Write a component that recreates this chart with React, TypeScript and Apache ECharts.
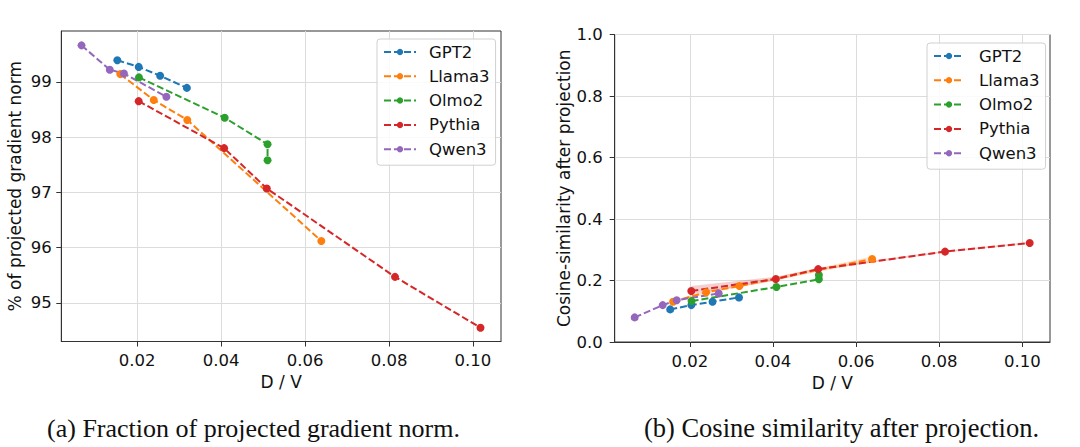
import React, { useEffect, useRef } from "react";
import * as echarts from "echarts";

// ---- data ----
const models = ["GPT2", "Llama3", "Olmo2", "Pythia", "Qwen3"];
const colors = ["#1f77b4", "#ff7f0e", "#2ca02c", "#d62728", "#9467bd"];

const gpt2X = [0.01528, 0.02037, 0.02547, 0.03184];
const llama3X = [0.01597, 0.02395, 0.03194, 0.06387];
const olmo2X = [0.02042, 0.04085, 0.05106, 0.05106];
const pythiaX = [0.02036, 0.04071, 0.05089, 0.08142, 0.10178];
const qwen3X = [0.00674, 0.01348, 0.01685, 0.02696];

// (a) % of projected gradient norm
const gpt2Norm = [99.39, 99.27, 99.11, 98.89];
const llama3Norm = [99.14, 98.67, 98.31, 96.12];
const olmo2Norm = [99.08, 98.35, 97.87, 97.58];
const pythiaNorm = [98.65, 97.8, 97.07, 95.47, 94.55];
const qwen3Norm = [99.66, 99.22, 99.15, 98.73];

// (b) cosine similarity after projection
const gpt2Cos = [0.106, 0.12, 0.131, 0.145];
const llama3Cos = [0.131, 0.162, 0.182, 0.27];
const olmo2Cos = [0.133, 0.179, 0.204, 0.218];
const pythiaCos = [0.166, 0.205, 0.237, 0.294, 0.322];
const qwen3Cos = [0.08, 0.12, 0.136, 0.158];

// shaded bands (b)
const pythiaCosLow = [0.156, 0.199, 0.233, 0.291, 0.319];
const pythiaCosHigh = [0.182, 0.212, 0.241, 0.297, 0.325];
const llama3CosLow = [0.127, 0.157, 0.178, 0.262];
const llama3CosHigh = [0.135, 0.167, 0.186, 0.278];

const xTicks = [0.02, 0.04, 0.06, 0.08, 0.1];
const normTicks = [95, 96, 97, 98, 99];

const X_MIN = 0.00193;
const X_MAX = 0.10667;
const NORM_MIN = 94.3;
const NORM_MAX = 99.92;

const captionA = "(a) Fraction of projected gradient norm.";
const captionB = "(b) Cosine similarity after projection.";

const xsList = [gpt2X, llama3X, olmo2X, pythiaX, qwen3X];
const normList = [gpt2Norm, llama3Norm, olmo2Norm, pythiaNorm, qwen3Norm];
const cosList = [gpt2Cos, llama3Cos, olmo2Cos, pythiaCos, qwen3Cos];

const SANS = "DejaVu Sans";
const TXT = "#111";

function bandSeries(xs: number[], lo: number[], hi: number[], color: string) {
  return {
    type: "custom",
    xAxisIndex: 1,
    yAxisIndex: 1,
    silent: true,
    z: 1,
    clip: true,
    data: xs.map((x, i) => [x, lo[i], hi[i]]),
    encode: { x: 0, y: [1, 2] },
    renderItem: (params: any, api: any) => {
      const i = params.dataIndex;
      if (i >= xs.length - 1) return { type: "group", children: [] };
      const pts = [
        api.coord([xs[i], lo[i]]),
        api.coord([xs[i + 1], lo[i + 1]]),
        api.coord([xs[i + 1], hi[i + 1]]),
        api.coord([xs[i], hi[i]]),
      ];
      return {
        type: "polygon",
        shape: { points: pts },
        style: { fill: color, opacity: 0.22, stroke: "none" },
      };
    },
  };
}

function lineSeries(k: number, ys: number[], axis: number) {
  return {
    type: "line",
    name: models[k],
    xAxisIndex: axis,
    yAxisIndex: axis,
    data: xsList[k].map((x, i) => [x, ys[i]]),
    symbol: "circle",
    symbolSize: 8,
    z: 3,
    itemStyle: { color: colors[k] },
    lineStyle: { color: colors[k], width: 2, type: [7, 3] },
  };
}

function xAxis(gi: number) {
  return {
    type: "value",
    gridIndex: gi,
    min: X_MIN,
    max: X_MAX,
    name: "D / V",
    nameLocation: "middle",
    nameGap: 31,
    nameTextStyle: { fontFamily: SANS, fontSize: 17, color: TXT },
    axisLine: { show: true, lineStyle: { color: "#333", width: 1 } },
    axisTick: {
      show: true,
      inside: false,
      length: 5,
      customValues: xTicks,
      lineStyle: { color: "#333", width: 1 },
    },
    axisLabel: {
      customValues: xTicks,
      formatter: (v: number) => v.toFixed(2),
      margin: 10.5,
      fontFamily: SANS,
      fontSize: 16.5,
      color: TXT,
    },
    splitLine: { show: true, lineStyle: { color: "#dcdcdc", width: 1 } },
  };
}

function legend(left: number, top: number, iconW: number, textPad: number) {
  return {
    data: models,
    orient: "vertical",
    left,
    top,
    itemWidth: iconW,
    itemHeight: 8,
    itemGap: 6.3,
    padding: [4, 6, 7, 6],
    backgroundColor: "rgba(255,255,255,0.85)",
    borderColor: "#d0d0d0",
    borderWidth: 1,
    borderRadius: 3,
    textStyle: {
      fontFamily: SANS,
      fontSize: 16.5,
      color: TXT,
      lineHeight: 18,
      padding: [0, 0, 0, textPad],
    },
  };
}

export default function App() {
  const ref = useRef<HTMLDivElement>(null);
  useEffect(() => {
    if (!ref.current) return;
    const chart = echarts.init(ref.current, null, { renderer: "svg" });
    const series: any[] = [
      bandSeries(pythiaX, pythiaCosLow, pythiaCosHigh, colors[3]),
      bandSeries(llama3X, llama3CosLow, llama3CosHigh, colors[1]),
    ];
    models.forEach((_, k) => series.push(lineSeries(k, normList[k], 0)));
    models.forEach((_, k) => series.push(lineSeries(k, cosList[k], 1)));

    chart.setOption({
      animation: false,
      backgroundColor: "#fff",
      grid: [
        {
          left: 61.3,
          top: 31,
          width: 439.7,
          height: 310.5,
          show: true,
          borderColor: "#333",
          borderWidth: 1,
          backgroundColor: "transparent",
        },
        {
          left: 614.7,
          top: 34.5,
          width: 435.3,
          height: 307.5,
          show: true,
          borderColor: "#333",
          borderWidth: 1,
          backgroundColor: "transparent",
        },
      ],
      xAxis: [xAxis(0), xAxis(1)],
      yAxis: [
        {
          type: "value",
          gridIndex: 0,
          min: NORM_MIN,
          max: NORM_MAX,
          name: "% of projected gradient norm",
          nameLocation: "middle",
          nameGap: 38,
          nameTextStyle: { fontFamily: SANS, fontSize: 17, color: TXT },
          axisLine: { show: true, lineStyle: { color: "#333", width: 1 } },
          axisTick: {
            show: true,
            inside: false,
            length: 5,
            customValues: normTicks,
            lineStyle: { color: "#333", width: 1 },
          },
          axisLabel: {
            customValues: normTicks,
            formatter: (v: number) => String(Math.round(v)),
            margin: 9.5,
            fontFamily: SANS,
            fontSize: 16.5,
            color: TXT,
          },
          splitLine: { show: true, lineStyle: { color: "#dcdcdc", width: 1 } },
        },
        {
          type: "value",
          gridIndex: 1,
          min: 0,
          max: 1,
          interval: 0.2,
          name: "Cosine-similarity after projection",
          nameLocation: "middle",
          nameGap: 41,
          nameTextStyle: { fontFamily: SANS, fontSize: 17, color: TXT },
          axisLine: { show: true, lineStyle: { color: "#333", width: 1 } },
          axisTick: {
            show: true,
            inside: false,
            length: 5,
            lineStyle: { color: "#333", width: 1 },
          },
          axisLabel: {
            formatter: (v: number) => v.toFixed(1),
            margin: 12,
            fontFamily: SANS,
            fontSize: 16.5,
            color: TXT,
          },
          splitLine: { show: true, lineStyle: { color: "#dcdcdc", width: 1 } },
        },
      ],
      legend: [legend(377, 39, 32, 8), legend(927, 43, 30, 10)],
      graphic: [
        {
          type: "text",
          x: 253.5,
          y: 428,
          style: {
            text: captionA,
            align: "center",
            verticalAlign: "middle",
            fontFamily: "Liberation Serif",
            fontSize: 26,
            fill: "#111",
          },
        },
        {
          type: "text",
          x: 841.5,
          y: 428,
          style: {
            text: captionB,
            align: "center",
            verticalAlign: "middle",
            fontFamily: "Liberation Serif",
            fontSize: 26.5,
            fill: "#111",
          },
        },
      ],
      series,
    });
    return () => chart.dispose();
  }, []);
  return (
    <div
      ref={ref}
      style={{ position: "fixed", left: 0, top: 0, width: 1080, height: 447 }}
    />
  );
}
